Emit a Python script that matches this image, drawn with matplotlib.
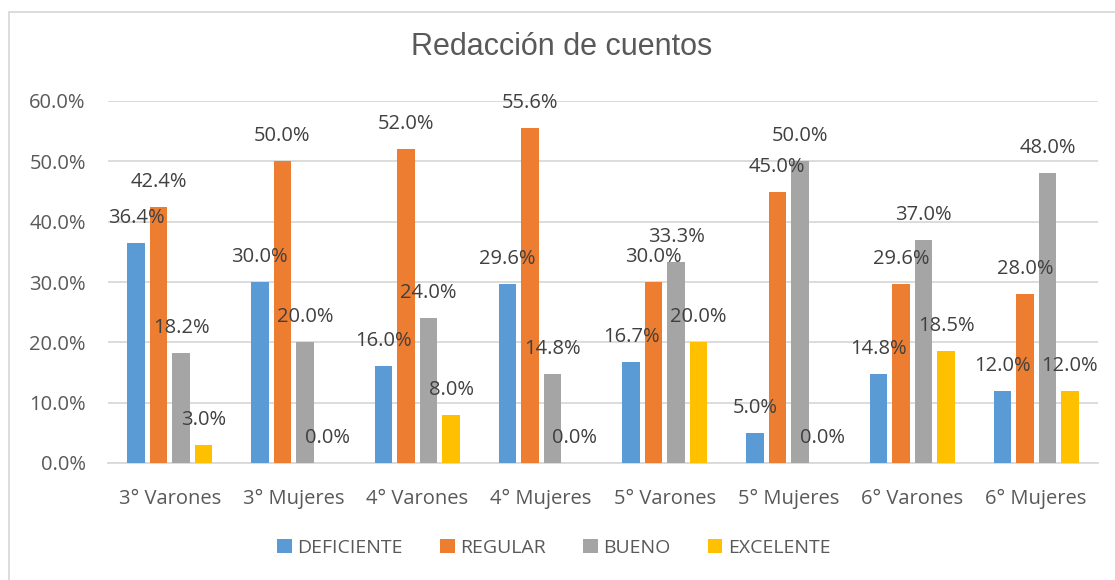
import matplotlib
matplotlib.use("Agg")
import matplotlib.pyplot as plt
import numpy as np
from matplotlib.patches import Rectangle

plt.rcParams["font.family"] = ["Open Sans", "DejaVu Sans"]

# ---- data ------------------------------------------------------------------
groups = ["3° Varones", "3° Mujeres", "4° Varones", "4° Mujeres",
          "5° Varones", "5° Mujeres", "6° Varones", "6° Mujeres"]
series = ["DEFICIENTE", "REGULAR", "BUENO", "EXCELENTE"]
deficiente = [36.4, 30.0, 16.0, 29.6, 16.7, 5.0, 14.8, 12.0]
regular = [42.4, 50.0, 52.0, 55.6, 30.0, 45.0, 29.6, 28.0]
bueno = [18.2, 20.0, 24.0, 14.8, 33.3, 50.0, 37.0, 48.0]
excelente = [3.0, 0.0, 8.0, 0.0, 20.0, 0.0, 18.5, 12.0]
yticks = [0, 10, 20, 30, 40, 50, 60]

COLORS = ["#5B9BD5", "#ED7D31", "#A5A5A5", "#FFC000"]
TXT = "#595959"
LBL = "#404040"
GRID = "#D9D9D9"

fig = plt.figure(figsize=(11.15, 5.8), dpi=100)
ax = fig.add_axes([108 / 1115, 117 / 580, 990 / 1115, 362 / 580])

x = np.arange(len(groups))
width = 0.14
step = 0.182
offsets = (np.arange(4) - 1.5) * step
for k, (name, vals) in enumerate(zip(series, [deficiente, regular, bueno, excelente])):
    vals = np.array(vals) / 100
    ax.bar(x + offsets[k], vals, width, color=COLORS[k], label=name, zorder=3)
    for xi, v in zip(x + offsets[k], vals):
        ax.annotate(f"{v * 100:.1f}%", (xi, v), xytext=(0, 18),
                    textcoords="offset points", ha="center", va="center",
                    fontsize=14.5, color=LBL, zorder=4)

ax.set_xlim(-0.5, len(groups) - 0.5)
ax.set_ylim(0, 0.6)
ax.set_yticks(np.array(yticks) / 100)
ax.set_yticklabels([f"{t:.1f}%" for t in yticks], fontsize=14.5, color=TXT)
ax.set_xticks(x)
ax.set_xticklabels(groups, fontsize=14.5, color=TXT)
ax.tick_params(axis="x", length=0, pad=19)
ax.tick_params(axis="y", length=0, pad=16)
ax.yaxis.grid(True, color=GRID, lw=1.3, zorder=0)
for s in ["top", "right", "left"]:
    ax.spines[s].set_visible(False)
ax.spines["bottom"].set_color(GRID)
ax.spines["bottom"].set_linewidth(1.3)

fig.text(562 / 1115, 533 / 580, "Redacción de cuentos", ha="center", va="center",
         fontsize=22, color=TXT, family=["Liberation Sans", "DejaVu Sans"])

leg = fig.legend(loc="center", bbox_to_anchor=(554 / 1115, 32 / 580), ncol=4,
                 frameon=False, fontsize=14, handlelength=0.75, handleheight=0.75,
                 handletextpad=0.3, columnspacing=1.9)
for t in leg.get_texts():
    t.set_color(TXT)

fig.patches.append(Rectangle((8.5 / 1115, -0.05), 1.2, 568.5 / 580 + 0.05,
                             transform=fig.transFigure, fill=False,
                             edgecolor=GRID, lw=1.3))

fig.savefig("out.png", dpi=100)
